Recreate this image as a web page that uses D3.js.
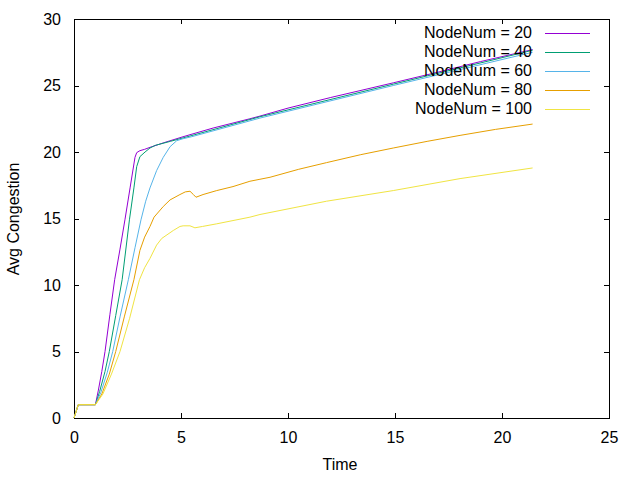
<!DOCTYPE html>
<html>
<head>
<meta charset="utf-8">
<script src="https://cdn.jsdelivr.net/npm/d3@7"></script>
<style>
  body { margin: 0; background: #fff; }
  svg { display: block; }
  text { font-family: "Liberation Sans", Arial, sans-serif; font-size: 16px; fill: #000; }
</style>
</head>
<body>
<svg id="chart" width="640" height="480"></svg>
<script>
// ---- data ----
const seriesNames = ["NodeNum = 20", "NodeNum = 40", "NodeNum = 60", "NodeNum = 80", "NodeNum = 100"];
const seriesColors = ["#9400d3", "#009e73", "#56b4e9", "#e69f00", "#f0e442"];

const t20 = [0,0.2,1.0,1.14,1.3,1.45,1.68,1.9,2.15,2.38,2.62,2.85,2.93,3.08,3.3,3.55,4.2,5.0,5.42,6.5,8.22,8.69,10,12,14.92,17,19,21.43];
const v20 = [0,1,1,2.1,3.5,5.0,7.8,10.4,12.7,14.9,17.3,19.6,19.95,20.1,20.2,20.35,20.7,21.1,21.3,21.8,22.5,22.7,23.3,24.1,25.2,26.0,26.8,27.7];

const t40 = [0,0.2,1.0,1.2,1.45,1.65,1.95,2.25,2.59,2.8,2.93,3.08,3.32,3.55,3.8,4.5,5.42,8.69,14.92,21.43];
const v40 = [0,1,1,2.0,3.5,5.0,7.7,10.4,14.9,17.3,18.9,19.65,20.0,20.3,20.5,20.8,21.2,22.65,25.1,27.65];

const t60 = [0,0.2,1.0,1.25,1.55,1.81,2.15,2.54,2.85,3.13,3.35,3.55,3.86,4.17,4.49,4.8,5.1,5.5,8.69,14.92,21.43];
const v60 = [0,1,1,1.9,3.4,5.0,7.6,10.4,12.8,14.9,16.3,17.3,18.6,19.6,20.4,20.85,21.0,21.15,22.55,25.0,27.5];

const t80 = [0,0.2,1.0,1.3,1.65,1.95,2.35,2.8,3.08,3.3,3.55,3.74,4.17,4.49,4.95,5.2,5.42,5.58,5.7,6.03,6.67,7.43,8.22,8.69,9.16,10.5,11.8,13.4,14.92,16.5,18.04,19.7,21.43];
const v80 = [0,1,1,1.8,3.3,5.0,7.6,10.4,12.6,13.6,14.4,15.1,15.9,16.4,16.8,17.0,17.05,16.8,16.6,16.8,17.1,17.4,17.8,17.95,18.1,18.7,19.2,19.8,20.3,20.8,21.25,21.7,22.1];

const t100 = [0,0.2,1.0,1.35,1.75,2.15,2.6,3.06,3.3,3.55,3.86,4.1,4.64,4.95,5.1,5.42,5.65,6.0,6.67,8.22,8.69,11.8,14.92,18.04,21.43];
const v100 = [0,1,1,1.8,3.3,5.0,7.5,10.4,11.3,12.0,13.0,13.5,14.1,14.4,14.45,14.45,14.3,14.4,14.6,15.1,15.3,16.3,17.1,18.0,18.8];

const xTicks = [0, 5, 10, 15, 20, 25];
const yTicks = [0, 5, 10, 15, 20, 25, 30];

const seriesT = [t20, t40, t60, t80, t100];
const seriesV = [v20, v40, v60, v80, v100];

// ---- layout ----
const W = 640, H = 480;
const m = { left: 74, right: 31, top: 19, bottom: 62 };
const svg = d3.select("#chart");
svg.append("rect").attr("width", W).attr("height", H).attr("fill", "#fff");

const x = d3.scaleLinear().domain([0, 25]).range([m.left, W - m.right]);
const y = d3.scaleLinear().domain([0, 30]).range([H - m.bottom, m.top]);

const tickLen = 5;
const gx = svg.append("g").attr("transform", `translate(0,${H - m.bottom})`)
  .call(d3.axisBottom(x).tickValues(xTicks).tickSizeInner(-tickLen).tickSizeOuter(0).tickPadding(14).tickFormat(d3.format("d")));
const gxt = svg.append("g").attr("transform", `translate(0,${m.top})`)
  .call(d3.axisTop(x).tickValues(xTicks).tickSizeInner(-tickLen).tickSizeOuter(0).tickFormat(""));
const gy = svg.append("g").attr("transform", `translate(${m.left},0)`)
  .call(d3.axisLeft(y).tickValues(yTicks).tickSizeInner(-tickLen).tickSizeOuter(0).tickPadding(13).tickFormat(d3.format("d")));
const gyr = svg.append("g").attr("transform", `translate(${W - m.right},0)`)
  .call(d3.axisRight(y).tickValues(yTicks).tickSizeInner(-tickLen).tickSizeOuter(0).tickFormat(""));

[gx, gxt, gy, gyr].forEach(g => {
  g.select(".domain").remove();
  g.selectAll("line").attr("stroke", "#000").attr("shape-rendering", "crispEdges");
  g.selectAll("text").attr("font-family", "Liberation Sans, Arial, sans-serif").attr("font-size", 16).attr("fill", "#000");
});
gx.selectAll("text").attr("dy", "0.71em");

svg.append("rect")
  .attr("x", m.left).attr("y", m.top)
  .attr("width", W - m.left - m.right).attr("height", H - m.top - m.bottom)
  .attr("fill", "none").attr("stroke", "#000").attr("stroke-width", 1)
  .attr("shape-rendering", "crispEdges");

svg.append("text").attr("x", 340).attr("y", 466).attr("text-anchor", "middle")
  .attr("dominant-baseline", "middle").text("Time");
svg.append("text").attr("transform", `translate(15,219) rotate(-90)`)
  .attr("text-anchor", "middle").attr("dominant-baseline", "middle").text("Avg Congestion");

const line = d3.line().x(d => x(d[0])).y(d => y(d[1]));
seriesT.forEach((ts, i) => {
  const pts = ts.map((t, j) => [t, seriesV[i][j]]);
  svg.append("path").datum(pts)
    .attr("d", line)
    .attr("fill", "none")
    .attr("stroke", seriesColors[i])
    .attr("stroke-width", 1);
});

const legendY = d3.scaleLinear().domain([0, 4]).range([33.3, 109.3]);
seriesNames.forEach((name, i) => {
  const yy = legendY(i);
  svg.append("text").attr("x", 532).attr("y", yy).attr("text-anchor", "end")
    .attr("dominant-baseline", "middle").text(name);
  svg.append("line").attr("x1", 545).attr("x2", 590).attr("y1", Math.round(yy) + 0.5).attr("y2", Math.round(yy) + 0.5)
    .attr("stroke", seriesColors[i]).attr("stroke-width", 1);
});
</script>
</body>
</html>
